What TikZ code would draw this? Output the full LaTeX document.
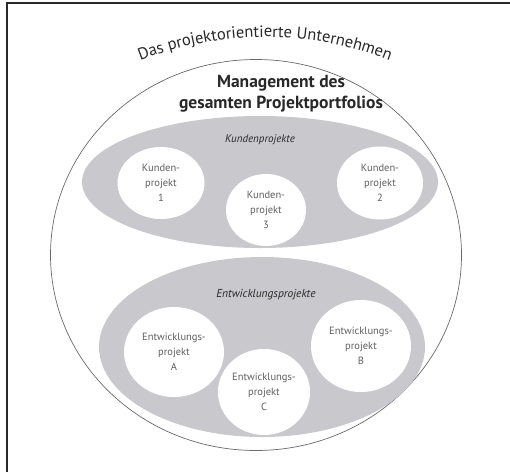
\documentclass[tikz,border=0pt]{standalone}
\usepackage{fontspec}
\setmainfont{PT Sans}
\usetikzlibrary{shapes.geometric,positioning,decorations.text}
\definecolor{groupgray}{RGB}{201,201,205}
\definecolor{rimgray}{RGB}{105,105,105}
\definecolor{labelgray}{RGB}{95,95,95}
\definecolor{inkdark}{RGB}{40,40,40}

\begin{document}
\begin{tikzpicture}[x=1pt,y=-1pt,
  group/.style={ellipse, fill=groupgray, inner sep=0pt},
  projekt/.style={ellipse, fill=white, inner sep=0pt, align=center, text=labelgray,
    font=\fontsize{10.5}{15}\selectfont},
  grouplabel/.style={font=\fontsize{11}{12}\selectfont\itshape, text=inkdark},
]
\useasboundingbox (0,0) rectangle (510,472);
\draw[inkdark, line width=1.2pt] (7,472) -- (7,3) -- (510,3);

\node[ellipse, draw=rimgray, line width=0.7pt, minimum width=411pt, minimum height=391pt] (firma) at (256,255) {};
\path[decorate, decoration={text along path, text align=center,
  text={|\fontsize{16.5}{16.5}\selectfont\color{inkdark}|Das projektorientierte Unternehmen}}]
  (265,377) ++(245:340) arc[start angle=245, end angle=295, radius=340];
\node[font=\fontsize{17.5}{21}\selectfont\bfseries, align=center, text=inkdark] (portfolio) at (281,94)
  {Management des\\gesamten Projektportfolios};

\node[group, minimum width=356pt, minimum height=132pt] (kunden) at (260,182) {};
\node[grouplabel] (kundenlabel) at (260,140) {Kundenprojekte};
\node[projekt, minimum width=87pt, minimum height=72pt] (k1) at (161,183) {Kunden-\\projekt\\1};
\node[projekt, minimum width=86pt, minimum height=73pt] (k2) at (380,183) {Kunden-\\projekt\\2};
\node[projekt, minimum width=80pt, minimum height=72pt] (k3) at (266,210) {Kunden-\\projekt\\3};

\node[group, minimum width=326pt, minimum height=180pt] (entw) at (262,347) {};
\node[grouplabel, font=\fontsize{11.5}{12}\selectfont\itshape] (entwlabel) at (266,295) {Entwicklungsprojekte};
\node[projekt, minimum width=100pt, minimum height=90pt] (eA) at (174,352) {Entwicklungs-\\projekt\\A};
\node[projekt, minimum width=100pt, minimum height=92pt] (eB) at (361,346) {Entwicklungs-\\projekt\\B};
\node[projekt, minimum width=92pt, minimum height=86pt] (eC) at (264,392) {Entwicklungs-\\projekt\\C};
\end{tikzpicture}
\end{document}
